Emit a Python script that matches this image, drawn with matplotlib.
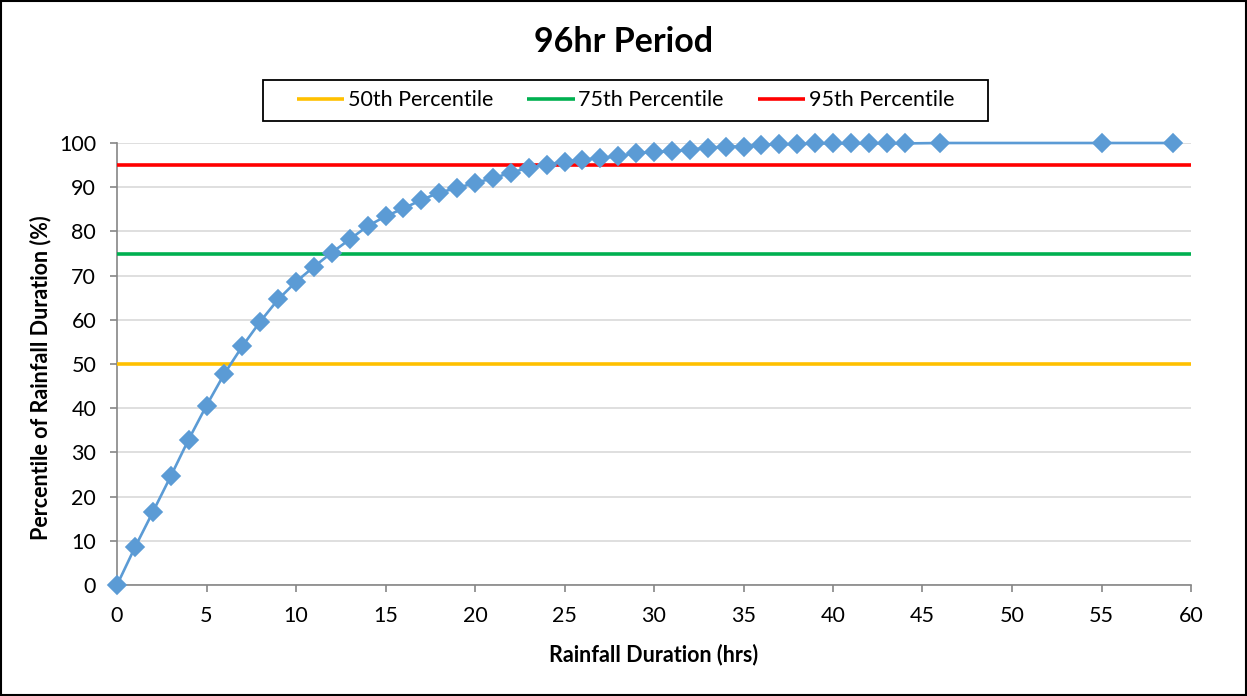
import matplotlib
matplotlib.use("Agg")
import matplotlib.pyplot as plt
from matplotlib.patches import Rectangle

# Rainfall duration (hrs) and cumulative percentile (%)
duration_hrs = [0, 1, 2, 3, 4, 5, 6, 7, 8, 9, 10, 11, 12, 13, 14, 15, 16, 17, 18, 19,
                20, 21, 22, 23, 24, 25, 26, 27, 28, 29, 30, 31, 32, 33, 34, 35, 36, 37,
                38, 39, 40, 41, 42, 43, 44, 46, 55, 59]
percentile = [0.0, 8.5, 16.5, 24.6, 32.9, 40.6, 47.8, 54.0, 59.6, 64.6, 68.6, 72.0,
              75.2, 78.2, 81.2, 83.4, 85.2, 87.1, 88.8, 89.8, 91.0, 92.0, 93.3, 94.4,
              95.1, 95.8, 96.2, 96.6, 97.0, 97.7, 98.0, 98.1, 98.5, 98.9, 99.2, 99.2,
              99.6, 99.7, 99.7, 99.9, 99.9, 99.9, 99.9, 99.9, 99.9, 100.0, 100.0, 100.0]

threshold_labels = ["50th Percentile", "75th Percentile", "95th Percentile"]
threshold_values = [50, 75, 95]
threshold_colors = ["#FFC000", "#00B050", "#FF0000"]

plt.rcParams["font.family"] = ["Lato", "DejaVu Sans"]

W, H = 1247, 696
fig = plt.figure(figsize=(W / 100, H / 100), dpi=100)
ax = fig.add_axes([117 / W, 1 - 585 / H, (1191 - 117) / W, (585 - 143) / H])

for lbl, val, col in zip(threshold_labels, threshold_values, threshold_colors):
    ax.plot([0, 60], [val, val], color=col, lw=2.6, label=lbl, solid_capstyle="butt", zorder=3)

ax.plot(duration_hrs, percentile, color="#5B9BD5", lw=1.9, marker="D", markersize=9,
        markeredgecolor="#5B9BD5", markerfacecolor="#5B9BD5", markeredgewidth=1.2,
        clip_on=False, zorder=4)

ax.set_xlim(0, 60)
ax.set_ylim(0, 100)
ax.set_xticks(range(0, 61, 5))
ax.set_yticks(range(0, 101, 10))
ax.grid(axis="y", color="#D9D9D9", lw=1.2, zorder=0)
ax.set_axisbelow(True)
for side in ["top", "right"]:
    ax.spines[side].set_visible(False)
for side in ["left", "bottom"]:
    ax.spines[side].set_color("#868686")
    ax.spines[side].set_linewidth(1.2)
ax.tick_params(axis="both", direction="out", length=5, width=1.2, color="#868686",
               labelsize=15.5, labelcolor="black")
ax.tick_params(axis="x", pad=10)
ax.tick_params(axis="y", pad=10)

ax.set_xlabel("Rainfall Duration (hrs)", fontsize=15.5, fontweight="bold", va="center")
ax.set_ylabel("Percentile of Rainfall Duration (%)", fontsize=15.5, fontweight="bold", va="center")
ax.xaxis.set_label_coords(0.5, (585 - 655) / (585 - 143))
ax.yaxis.set_label_coords((41 - 117) / (1191 - 117), 0.47)

fig.text(0.5, 1 - 52 / H, "96hr Period", ha="center", va="baseline", fontsize=24.5,
         fontweight="bold")

# Legend entries, with a framing box drawn around them
leg = fig.legend(loc="center", bbox_to_anchor=(625.5 / W, 1 - 100.5 / H), ncol=3, fontsize=15.5,
                 frameon=False, handlelength=2.2, handletextpad=0.15, columnspacing=1.6,
                 borderpad=0)
fig.patches.append(Rectangle((263 / W, 1 - 121 / H), 725 / W, 41 / H, transform=fig.transFigure,
                             fill=False, edgecolor="black", lw=1.3))

fig.patches.append(Rectangle((0.0008, 0.0014), 0.9984, 0.9972, transform=fig.transFigure,
                             fill=False, edgecolor="black", lw=1.5))

fig.savefig("out.png", dpi=100)
